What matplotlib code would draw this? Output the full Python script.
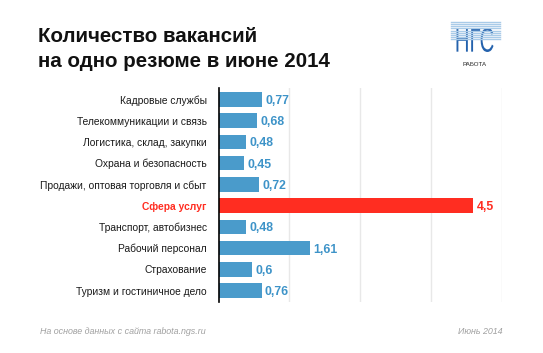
import matplotlib
matplotlib.use("Agg")
import matplotlib.pyplot as plt
from matplotlib.textpath import TextPath
from matplotlib.patches import PathPatch
from matplotlib.font_manager import FontProperties
from matplotlib.transforms import Affine2D

categories = ["Кадровые службы", "Телекоммуникации и связь", "Логистика, склад, закупки",
              "Охрана и безопасность", "Продажи, оптовая торговля и сбыт", "Сфера услуг",
              "Транспорт, автобизнес", "Рабочий персонал", "Страхование",
              "Туризм и гостиничное дело"]
values = [0.77, 0.68, 0.48, 0.45, 0.72, 4.5, 0.48, 1.61, 0.6, 0.76]
value_labels = ["0,77", "0,68", "0,48", "0,45", "0,72", "4,5", "0,48", "1,61", "0,6", "0,76"]
highlight = "Сфера услуг"

BLUE = "#4a9bcb"
BLUE_TXT = "#3d93c8"
RED = "#ff2d21"

plt.rcParams['font.family'] = ['Liberation Sans', 'DejaVu Sans']

W, H = 543, 353
fig = plt.figure(figsize=(W / 100, H / 100), dpi=100)
fig.patch.set_facecolor("white")

def fx(px):
    return px / W

def fy(py):
    return 1 - py / H

ax = fig.add_axes([fx(218.5), fy(302), fx(501.5) - fx(218.5), fy(88) - fy(302)])
ys = list(range(len(categories)))
colors = [RED if c == highlight else BLUE for c in categories]
ax.barh(ys, values, height=0.68, color=colors, zorder=3)
ax.set_xlim(0, 5)
ax.set_ylim(len(categories) - 0.46, -0.54)
for x in [1.25, 2.5, 3.75, 5.0]:
    ax.axvline(x, color="#e8e8e8", lw=1, zorder=1)
for s in ["top", "right", "bottom"]:
    ax.spines[s].set_visible(False)
ax.spines["left"].set_color("black")
ax.spines["left"].set_linewidth(1.2)
ax.spines["left"].set_zorder(5)
ax.set_xticks([])
ax.set_yticks(ys)
ax.set_yticklabels(categories, fontsize=7.4, va="center_baseline")
ax.tick_params(axis="y", length=0, pad=8.5)
for lbl, c in zip(ax.get_yticklabels(), categories):
    if c == highlight:
        lbl.set_color(RED)
        lbl.set_fontweight("bold")
    else:
        lbl.set_color("#1a1a1a")
for y, v, t, c in zip(ys, values, value_labels, categories):
    col = RED if c == highlight else BLUE_TXT
    ax.annotate(t, (v, y), xytext=(2.5, 0), textcoords="offset points",
                va="center_baseline", ha="left", fontsize=8.8, fontweight="bold", color=col)

# Title
fig.text(fx(38), fy(42), "Количество вакансий", fontsize=14.8, fontweight="bold",
         color="#111111", ha="left", va="baseline")
fig.text(fx(38), fy(67), "на одно резюме в июне 2014", fontsize=14.8, fontweight="bold",
         color="#111111", ha="left", va="baseline")

# Logo: stripes
lx0, lx1, ly0, ly1 = 451, 500, 22, 39
n = 9
for i in range(n):
    yy = ly0 + i * (ly1 - ly0) / (n - 1)
    fig.add_artist(plt.Line2D([fx(lx0), fx(lx1)], [fy(yy), fy(yy)], color="#a9cbe8", lw=1.0))
# Logo letters: condensed via scaling a text path (in pixel coords)
tp = TextPath((0, 0), "НГС", size=100, prop=FontProperties(family="Liberation Sans"))
bb = tp.get_extents()
tw, th = 37.0, 24.0   # target width/height in px
sx = tw / bb.width
sy = th / bb.height
tr = Affine2D().translate(-bb.x0, -bb.y0).scale(sx, sy).translate(456.5, H - 52)
patch = PathPatch(tp, transform=tr, facecolor="#2462ad", edgecolor="none")
fig.add_artist(patch)
fig.text(fx(475), fy(66), "РАБОТА", fontsize=4.4, color="#222222", ha="center", va="baseline")

# Footer
fig.text(fx(40), fy(334), "На основе данных с сайта rabota.ngs.ru", fontsize=6.4,
         style="italic", color="#a0a0a0", ha="left", va="baseline")
fig.text(fx(503), fy(334), "Июнь 2014", fontsize=6.4, style="italic", color="#a0a0a0",
         ha="right", va="baseline")

fig.savefig("out.png", dpi=100, facecolor="white")
